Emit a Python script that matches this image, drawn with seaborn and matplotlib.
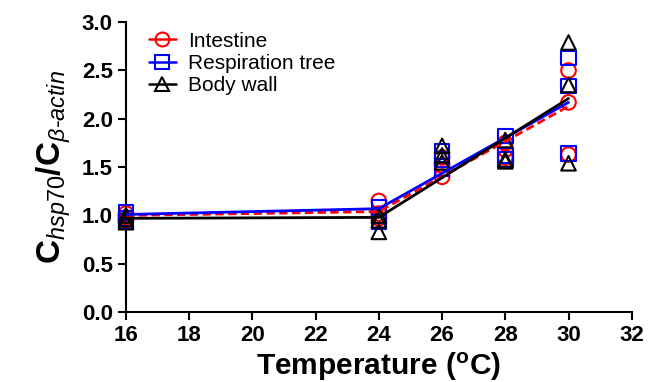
import matplotlib
matplotlib.use("Agg")
import matplotlib.pyplot as plt
from matplotlib.lines import Line2D
import seaborn as sns
import pandas as pd

# ---- data ----
temps = [16, 16, 16, 24, 24, 24, 26, 26, 26, 28, 28, 28, 30, 30, 30]
intestine = [1.02, 0.98, 0.95, 1.15, 1.02, 0.97, 1.60, 1.52, 1.40, 1.75, 1.68, 1.60, 2.50, 2.17, 1.63]
respiration = [1.03, 0.97, 0.94, 1.08, 1.00, 0.93, 1.66, 1.58, 1.48, 1.82, 1.62, 1.58, 2.63, 2.34, 1.64]
body_wall = [1.00, 0.96, 0.93, 1.00, 0.95, 0.83, 1.72, 1.62, 1.55, 1.78, 1.58, 1.56, 2.79, 2.35, 1.54]

fit_x = [16, 24, 30]
fit_intestine = [1.00, 1.04, 2.13]
fit_respiration = [1.01, 1.07, 2.17]
fit_body_wall = [0.97, 0.98, 2.21]

series_names = ["Intestine", "Respiration tree", "Body wall"]
x_ticks = [16, 18, 20, 22, 24, 26, 28, 30, 32]
y_ticks = [0.0, 0.5, 1.0, 1.5, 2.0, 2.5, 3.0]

sns.set_theme(style="ticks")
plt.rcParams["font.family"] = ["Liberation Sans", "DejaVu Sans"]
plt.rcParams["mathtext.fontset"] = "custom"
plt.rcParams["mathtext.rm"] = "Liberation Sans"
plt.rcParams["mathtext.it"] = "Liberation Sans:italic"
plt.rcParams["mathtext.bf"] = "Liberation Sans:bold"
plt.rcParams["text.color"] = "black"
plt.rcParams["axes.labelcolor"] = "black"
plt.rcParams["xtick.color"] = "black"
plt.rcParams["ytick.color"] = "black"

fig = plt.figure(figsize=(6.56, 3.82), dpi=100)
ax = fig.add_axes([0.192, 0.183, 0.771, 0.759])

styles = [
    (intestine, fit_intestine, "#ff0000", "o", (0, (3.0, 1.6))),
    (respiration, fit_respiration, "#0000ff", "s", "-"),
    (body_wall, fit_body_wall, "#000000", "^", "-"),
]

handles = []
for (vals, fit, col, mk, ls), name in zip(styles, series_names):
    df_pts = pd.DataFrame({"T": temps, "v": vals})
    sns.scatterplot(data=df_pts, x="T", y="v", ax=ax, marker=mk, s=110,
                    facecolor="none", edgecolor=col, linewidth=1.5, zorder=3,
                    clip_on=False)
    df_fit = pd.DataFrame({"T": fit_x, "v": fit})
    sns.lineplot(data=df_fit, x="T", y="v", ax=ax, color=col, linewidth=2.0,
                 linestyle=ls, estimator=None, zorder=4)
    handles.append(Line2D([], [], color=col, marker=mk, markersize=10,
                          markerfacecolor="none", markeredgecolor=col,
                          markeredgewidth=1.5, linewidth=1.8))

ax.set_xlim(16, 32)
ax.set_ylim(0, 3.0)
ax.set_xticks(x_ticks)
ax.set_yticks(y_ticks)
ax.set_yticklabels([f"{t:.1f}" for t in y_ticks])
ax.tick_params(axis="both", which="major", labelsize=16, width=1.5, length=6,
               direction="out", colors="black")
for lab in ax.get_xticklabels() + ax.get_yticklabels():
    lab.set_fontweight("bold")
for side in ["top", "right"]:
    ax.spines[side].set_visible(False)
for side in ["left", "bottom"]:
    ax.spines[side].set_linewidth(1.5)
    ax.spines[side].set_color("black")

ax.set_xlabel(r"Temperature ($\mathbf{^{o}}$C)", fontsize=21.5, fontweight="bold", labelpad=3)
ax.set_ylabel(r"C$_{\mathit{hsp70}}$/C$_{\mathit{\beta}\text{-}\mathit{actin}}$",
              fontsize=24, fontweight="bold", labelpad=6)

ax.legend(handles, series_names, loc="upper left", bbox_to_anchor=(0.02, 1.01),
          frameon=False, fontsize=15, handlelength=1.3, handletextpad=0.6,
          labelspacing=0.15, borderaxespad=0.2)

fig.savefig("out.png", dpi=100)
